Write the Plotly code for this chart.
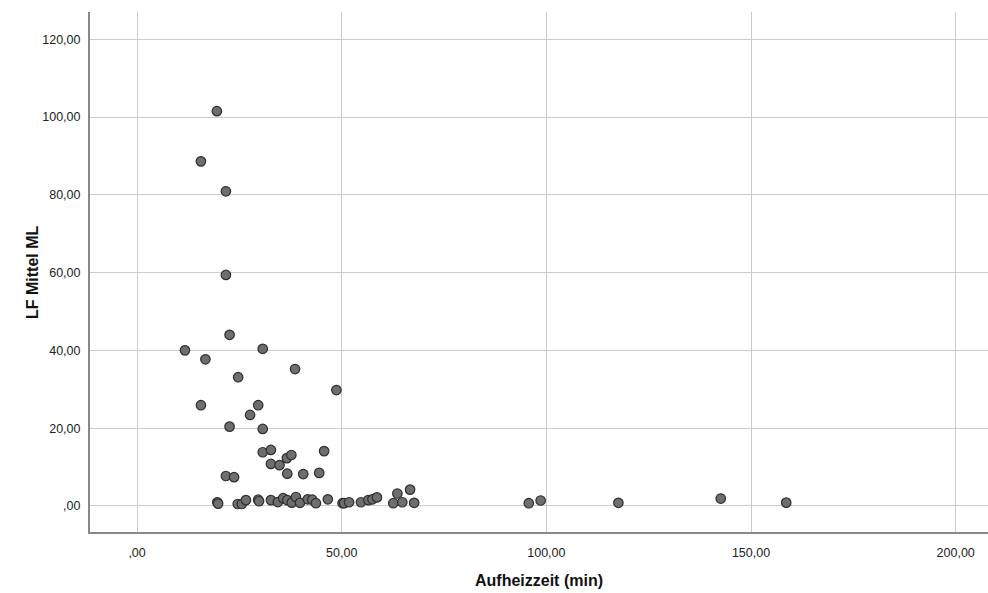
import plotly.graph_objects as go

# Aufheizzeit (min)
heat_time = [
    19.5, 15.6, 21.7, 21.7, 22.6, 11.7, 30.7, 16.7, 38.6, 24.7,
    48.7, 15.6, 29.6, 27.6, 22.6, 30.7,
    30.7, 32.7, 32.7, 34.8, 36.6, 37.7, 45.7, 21.7, 23.7, 36.7,
    40.6, 44.5,
    19.6, 19.8, 24.6, 25.6, 26.6, 29.6, 29.8, 32.7, 34.4, 35.7, 36.7,
    37.8, 38.8, 39.8, 41.7, 42.8, 43.7, 46.6, 50.2, 50.6, 51.8,
    54.7, 56.5, 57.5, 58.6, 63.6, 66.7, 62.6, 64.8, 67.7,
    95.7, 98.6, 117.6, 142.6, 158.6,
]
# LF Mittel ML
lf_mean = [
    101.5, 88.6, 80.9, 59.4, 44.0, 40.0, 40.4, 37.7, 35.2, 33.1,
    29.8, 25.9, 25.9, 23.4, 20.4, 19.8,
    13.8, 14.4, 10.8, 10.5, 12.3, 13.1, 14.1, 7.7, 7.4, 8.3,
    8.2, 8.5,
    0.95, 0.6, 0.5, 0.5, 1.5, 1.6, 1.2, 1.5, 1.0, 2.0, 1.5,
    0.85, 2.3, 0.8, 1.7, 1.6, 0.7, 1.7, 0.7, 0.7, 0.95,
    0.95, 1.5, 1.7, 2.2, 3.2, 4.2, 0.7, 0.95, 0.8,
    0.7, 1.4, 0.8, 1.9, 0.85,
]

x_ticks = [0, 50, 100, 150, 200]
x_tick_labels = [",00", "50,00", "100,00", "150,00", "200,00"]
y_ticks = [0, 20, 40, 60, 80, 100, 120]
y_tick_labels = [",00", "20,00", "40,00", "60,00", "80,00", "100,00", "120,00"]

FONT = "Liberation Sans, Arial, sans-serif"

fig = go.Figure()
fig.add_trace(go.Scatter(
    x=heat_time, y=lf_mean, mode="markers",
    marker=dict(size=9.5, color="#6e6e6e", line=dict(color="#2e2e2e", width=1.2)),
    showlegend=False,
))

fig.update_layout(
    width=988, height=593,
    margin=dict(l=90, r=0, t=12, b=61),
    paper_bgcolor="white", plot_bgcolor="white",
    font=dict(family=FONT, size=12.5, color="#222222"),
    xaxis=dict(
        range=[-11.5, 207.9], tickvals=x_ticks, ticktext=x_tick_labels,
        showgrid=True, gridcolor="#cccccc", gridwidth=1,
        showline=True, linecolor="#888888", linewidth=2,
        zeroline=False, ticks="", ticklabelstandoff=8,
        tickfont=dict(size=12.5, color="#222222"),
    ),
    yaxis=dict(
        range=[-6.7, 127], tickvals=y_ticks, ticktext=y_tick_labels,
        showgrid=True, gridcolor="#cccccc", gridwidth=1,
        showline=True, linecolor="#888888", linewidth=2,
        zeroline=False, ticks="", ticklabelstandoff=5,
        tickfont=dict(size=12.5, color="#222222"),
    ),
    annotations=[
        dict(text="<b>Aufheizzeit (min)</b>", xref="paper", yref="paper",
             x=0.5, y=0, yshift=-48, xanchor="center", yanchor="middle",
             showarrow=False, font=dict(size=16, color="#111111", family=FONT)),
        dict(text="<b>LF Mittel ML</b>", xref="paper", yref="paper",
             x=0, y=0.5, xshift=-58, xanchor="center", yanchor="middle",
             textangle=-90, showarrow=False,
             font=dict(size=16, color="#111111", family=FONT)),
    ],
)

fig.write_html(
    "out.html",
    config={"displayModeBar": False},
    post_script="document.body.style.margin='0';document.body.style.overflow='hidden';",
)
